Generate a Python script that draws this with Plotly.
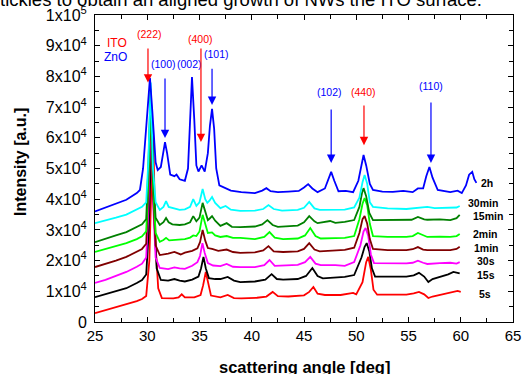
import plotly.graph_objects as go

# ---------------- data ----------------
x_2h = [25.0, 26.0, 27.0, 28.0, 29.0, 29.3, 29.6, 29.8, 30.0, 30.26, 30.5, 30.8, 31.0, 31.3, 31.5, 31.7, 31.9,
        32.2, 32.6, 32.8, 33.1, 33.6, 33.9, 34.1, 34.28, 34.5, 34.7, 34.9, 35.2, 35.5, 35.8, 36.0, 36.2, 36.4,
        36.6, 36.9, 37.5, 38.0, 39.0, 40.3, 41.0, 41.4, 41.8, 42.5, 43.5, 44.5, 45.0, 45.4, 45.8, 46.3, 47.0,
        47.3, 47.6, 47.9, 48.3, 49.0, 49.7, 50.2, 50.5, 50.7, 50.95, 51.3, 51.6, 52.5, 53.5, 54.5, 55.4, 55.9,
        56.4, 56.7, 57.0, 57.3, 57.8, 58.5, 59.0, 59.7, 60.1, 60.5, 60.8, 61.1, 61.3, 61.5]
y_2h = [36000, 37300, 38500, 39800, 42000, 43000, 50000, 60000, 70000, 79500, 68000, 52000, 49500, 50500, 54500,
        58600, 55000, 48000, 47500, 48000, 46500, 46000, 50000, 68000, 79800, 66000, 51000, 49000, 51000, 49000,
        55000, 64000, 69400, 63000, 50000, 44500, 43500, 42800, 42300, 42000, 42800, 43600, 42600, 42300, 42500,
        42700, 43800, 44900, 43500, 42300, 43500, 46500, 48900, 46000, 42600, 42700, 42300, 46000, 51500, 54400,
        51000, 45000, 43000, 42500, 42400, 42700, 42300, 43500, 43500, 47500, 50500, 47000, 43000, 42500, 42300,
        42800, 42000, 44500, 48000, 48900, 46500, 45300]

x_30min = [25.0, 26.0, 27.0, 28.0, 29.0, 29.5, 29.9, 30.1, 30.33, 30.55, 30.8, 31.2, 31.55, 31.8, 32.05, 32.4,
           33.1, 33.6, 34.1, 34.4, 34.7, 35.0, 35.3, 35.55, 35.75, 35.95, 36.2, 36.5, 37.0, 37.5, 38.0, 38.9,
           40.3, 41.1, 41.6, 42.1, 42.9, 44.4, 45.0, 45.5, 46.0, 46.5, 47.7, 48.9, 49.8, 50.3, 50.6, 50.8, 51.05,
           51.3, 51.6, 53.0, 54.8, 56.0, 56.8, 57.5, 59.0, 59.6, 59.9]
y_30min = [32200, 33000, 34000, 35000, 36500, 37500, 39000, 52000, 78000, 50000, 39000, 36500, 37500, 39400,
           37500, 37100, 36500, 36700, 37500, 40000, 37800, 39000, 43300, 40000, 38800, 39500, 40700, 38800,
           37100, 37800, 36600, 36200, 36300, 36800, 38100, 36800, 36300, 36500, 37200, 39100, 37000, 36500,
           36500, 36600, 37300, 40500, 45500, 47900, 45000, 39000, 37500, 37000, 36800, 37200, 37500, 37100,
           37100, 37300, 37800]

x_15min = [25.0, 26.0, 27.0, 28.0, 29.0, 29.5, 29.9, 30.1, 30.33, 30.55, 30.8, 31.2, 31.55, 31.8, 32.05, 32.4,
           33.1, 33.6, 34.1, 34.4, 34.7, 35.0, 35.3, 35.55, 35.8, 36.0, 36.2, 36.5, 37.0, 37.6, 38.1, 38.9,
           40.3, 41.0, 41.5, 42.0, 42.5, 44.4, 45.0, 45.5, 46.0, 46.3, 47.0, 47.5, 48.0, 48.9, 49.8, 50.3, 50.55,
           50.7, 50.95, 51.25, 51.6, 53.8, 55.3, 55.9, 56.5, 56.8, 58.0, 59.0, 59.6, 59.9]
y_15min = [26000, 27000, 28200, 29300, 30800, 31800, 33500, 50000, 76000, 48000, 34000, 31600, 32500, 33900,
           32500, 31800, 31600, 31800, 32500, 34500, 32800, 34000, 38800, 36000, 33200, 33800, 34500, 33000,
           31300, 32200, 31000, 30900, 31100, 31800, 33200, 31600, 31000, 31400, 32500, 34500, 32800, 32200,
           32500, 32900, 32300, 32600, 33200, 37500, 42000, 43600, 41000, 35500, 33200, 33200, 33300, 34200,
           33400, 33300, 33400, 33200, 33800, 34900]

x_2min = [25.0, 26.0, 27.0, 28.0, 29.0, 29.5, 29.9, 30.1, 30.33, 30.55, 30.8, 31.2, 31.55, 31.8, 32.1, 33.1,
          33.6, 34.1, 34.4, 34.7, 35.0, 35.3, 35.55, 35.8, 36.2, 36.5, 37.0, 37.6, 38.2, 38.9, 40.3, 41.2, 41.7,
          42.2, 43.0, 44.4, 45.1, 45.6, 46.1, 46.6, 48.0, 48.9, 49.8, 50.3, 50.6, 50.8, 51.05, 51.3, 51.6, 53.0,
          54.8, 55.4, 55.9, 56.4, 56.8, 58.0, 59.0, 59.6, 59.9]
y_2min = [22800, 23700, 24700, 25700, 27000, 27900, 29500, 46000, 75000, 45000, 29000, 26100, 26700, 27400,
          26600, 27000, 27000, 27500, 28200, 28000, 29500, 34900, 31500, 29000, 29200, 28200, 27700, 28000,
          27400, 27400, 27000, 27700, 29300, 27500, 27000, 27200, 28200, 30600, 28000, 27200, 27300, 27400,
          28000, 33500, 38500, 40400, 38000, 32000, 28000, 27700, 27700, 28000, 29000, 28200, 27700, 27800,
          27700, 28000, 28700]

x_1min = [25.0, 26.0, 27.0, 28.0, 29.0, 29.5, 29.9, 30.1, 30.33, 30.55, 30.8, 31.2, 32.0, 32.6, 33.2, 33.6,
          34.3, 34.8, 35.05, 35.3, 35.55, 35.8, 36.2, 36.8, 37.6, 38.2, 38.9, 40.3, 41.1, 41.6, 42.1, 43.0, 44.4,
          45.0, 45.5, 46.0, 46.5, 47.5, 48.9, 49.8, 50.3, 50.6, 50.8, 51.05, 51.3, 51.6, 53.0, 54.8, 55.4, 55.9,
          56.4, 56.8, 58.0, 59.0, 59.6, 59.9]
y_1min = [17900, 18900, 20000, 21200, 22800, 23800, 25500, 42000, 72000, 42000, 25000, 21800, 22300, 22800,
          22000, 22600, 23200, 24000, 26000, 30000, 26500, 24100, 23800, 23200, 23600, 22800, 22500, 22700,
          23300, 24700, 23000, 22800, 23000, 23800, 25700, 23600, 23000, 23200, 23500, 24200, 29000, 33500,
          34500, 32000, 27000, 23800, 23400, 23400, 23700, 24400, 23600, 23400, 23500, 23400, 23800, 24500]

x_30s = [25.0, 26.0, 27.0, 28.0, 29.0, 29.5, 29.9, 30.1, 30.35, 30.57, 30.8, 31.2, 32.0, 32.6, 33.1, 33.6, 34.3,
         34.8, 35.05, 35.28, 35.5, 35.8, 36.3, 37.0, 37.6, 38.2, 38.9, 40.3, 41.2, 41.7, 42.2, 43.0, 44.4, 45.1,
         45.6, 46.1, 46.6, 48.0, 48.9, 49.8, 50.4, 50.7, 50.9, 51.15, 51.4, 51.7, 53.0, 54.8, 55.4, 55.9, 56.4,
         56.8, 58.0, 59.0, 59.6, 59.9]
y_30s = [12700, 13700, 15000, 16300, 18000, 19000, 21000, 36000, 70000, 38000, 21000, 17600, 17200, 17800, 17500,
         17300, 18300, 19500, 21500, 25700, 22500, 19200, 18400, 18200, 18900, 18000, 17900, 17900, 18500, 20200,
         18300, 18400, 18600, 19500, 21200, 19000, 18500, 18500, 18300, 19500, 25000, 29500, 30600, 28000, 22000,
         19200, 19100, 19100, 19300, 20000, 19300, 18900, 19200, 19300, 19000, 19500]

x_15s = [25.0, 26.0, 27.0, 28.0, 29.0, 29.5, 29.9, 30.15, 30.45, 30.65, 30.9, 31.3, 32.0, 32.6, 33.1, 33.6, 34.3,
         34.9, 35.15, 35.38, 35.6, 35.9, 36.5, 37.0, 37.7, 38.3, 38.9, 40.3, 41.3, 41.9, 42.4, 43.0, 44.4, 45.2,
         45.8, 46.3, 46.8, 48.0, 48.9, 49.8, 50.5, 50.8, 51.0, 51.25, 51.5, 51.8, 53.0, 54.8, 55.5, 56.0, 56.5,
         56.9, 57.3, 58.0, 58.8, 59.3, 59.9]
y_15s = [8100, 9000, 10000, 11000, 12700, 13700, 15500, 30000, 68000, 36000, 17500, 13700, 13500, 14000, 13500,
         13200, 13800, 14800, 17500, 21200, 17500, 14300, 14000, 14000, 14700, 13500, 13000, 13200, 13800, 15600,
         14000, 13800, 14000, 15000, 17600, 15000, 14200, 14400, 14700, 15300, 21000, 24500, 25700, 23000, 17500,
         14800, 14800, 14800, 15200, 16000, 14800, 13000, 14000, 14600, 15500, 16300, 15800]

x_5s = [25.0, 26.0, 27.0, 28.0, 29.0, 29.5, 29.9, 30.2, 30.55, 30.8, 31.05, 31.4, 32.5, 33.0, 33.3, 33.6, 34.5,
        35.1, 35.35, 35.6, 35.85, 36.1, 37.0, 37.7, 38.3, 39.0, 40.5, 41.4, 42.0, 42.5, 43.5, 45.0, 45.5, 45.9,
        46.3, 47.0, 48.5, 49.5, 49.7, 50.0, 50.6, 50.95, 51.15, 51.4, 51.65, 52.0, 53.0, 54.8, 55.5, 56.0, 56.5,
        56.9, 57.3, 58.0, 59.0, 59.7, 60.0]
y_5s = [2900, 3900, 4800, 5700, 6800, 7500, 8500, 20000, 64000, 25000, 11000, 7800, 7700, 8000, 9000, 8000, 8000,
        8800, 12000, 16300, 12000, 8600, 8000, 8800, 7800, 7700, 7900, 8300, 9800, 8400, 8300, 8700, 9800, 11400,
        9200, 8800, 8800, 9200, 9500, 9000, 13000, 19500, 21200, 17000, 10500, 8900, 8900, 8900, 9300, 9800, 9000,
        7800, 8300, 8800, 9400, 10100, 9800]

series_names = ["5s", "15s", "30s", "1min", "2min", "15min", "30min", "2h"]
series_colors = ["#FF0000", "#000000", "#FF00FF", "#800000", "#00FF00", "#008000", "#00FFFF", "#0000FF"]
series_x = [x_5s, x_15s, x_30s, x_1min, x_2min, x_15min, x_30min, x_2h]
series_y = [y_5s, y_15s, y_30s, y_1min, y_2min, y_15min, y_30min, y_2h]

# series label positions (deg, intensity)
label_x = [61.6, 61.4, 61.4, 61.1, 61.0, 61.0, 60.5, 61.75]
label_y = [9100, 15300, 19900, 24100, 28700, 34500, 38800, 45300]

# reflections: label, colour, x, label y, arrow tip y, arrow tail y (None = no arrow)
peak_labels = ["(222)", "(100)", "(002)", "(400)", "(101)", "(102)", "(440)", "(110)"]
peak_colors = ["#FF0000", "#0000FF", "#0000FF", "#FF0000", "#0000FF", "#0000FF", "#FF0000", "#0000FF"]
peak_text_x = [30.26, 31.6, 34.0, 35.14, 36.67, 47.4, 50.65, 57.15]
peak_text_y = [93800, 84000, 84000, 92200, 87300, 74900, 74900, 76900]
arrow_x = [30.07, 31.7, None, 35.14, 36.2, 47.6, 50.74, 57.15]
arrow_tip = [78000, 59900, None, 58600, 70700, 51800, 57600, 51800]
arrow_tail = [89600, 79800, None, 89600, 83000, 69700, 71000, 72000]

y_tickvals = [0, 10000, 20000, 30000, 40000, 50000, 60000, 70000, 80000, 90000, 100000]
y_ticktext = ["0"] + ["%dx10<sup>4</sup>" % i for i in range(1, 10)] + ["1x10<sup>5</sup>"]
x_tickvals = [25, 30, 35, 40, 45, 50, 55, 60, 65]

FONT = "Liberation Sans, Arial, sans-serif"

fig = go.Figure()
for xs, ys, c, n in zip(series_x, series_y, series_colors, series_names):
    fig.add_trace(go.Scatter(x=xs, y=ys, mode="lines", line=dict(color=c, width=1.8), name=n,
                             showlegend=False))

ann = []
for n, lx, ly in zip(series_names, label_x, label_y):
    ann.append(dict(x=lx, y=ly, xref="x", yref="y", text="<b>%s</b>" % n, showarrow=False,
                    xanchor="left", yanchor="middle", font=dict(family=FONT, size=10.5, color="#000")))

for t, c, tx, ty, axx, tip, tail in zip(peak_labels, peak_colors, peak_text_x, peak_text_y,
                                         arrow_x, arrow_tip, arrow_tail):
    ann.append(dict(x=tx, y=ty, xref="x", yref="y", text=t, showarrow=False,
                    xanchor="center", yanchor="middle", font=dict(family=FONT, size=10.5, color=c)))
    if axx is not None:
        ann.append(dict(x=axx, y=tip, ax=axx, ay=tail, xref="x", yref="y", axref="x", ayref="y",
                        text="", showarrow=True, arrowhead=2, arrowsize=1.4, arrowwidth=1.2,
                        arrowcolor=c, standoff=0, startstandoff=0))

ann.append(dict(x=25.96, y=90900, xref="x", yref="y", text="ITO", showarrow=False, xanchor="left",
                yanchor="middle", font=dict(family=FONT, size=12, color="#FF0000")))
ann.append(dict(x=25.67, y=86300, xref="x", yref="y", text="ZnO", showarrow=False, xanchor="left",
                yanchor="middle", font=dict(family=FONT, size=12, color="#0000FF")))

# axis titles
ann.append(dict(x=-0.1794, y=0.521, xref="paper", yref="paper", text="<b>Intensity [a.u.]</b>",
                textangle=-90, showarrow=False, xanchor="center", yanchor="middle",
                font=dict(family=FONT, size=16, color="#000")))
ann.append(dict(x=0.5, y=-0.1466, xref="paper", yref="paper", text="<b>scattering angle [deg]</b>",
                showarrow=False, xanchor="center", yanchor="middle",
                font=dict(family=FONT, size=16.5, color="#000")))
# clipped caption text at the very top
ann.append(dict(x=-0.232, y=1.0098, xref="paper", yref="paper",
                text="tickles to obtain an aligned growth of NWs the ITO surface.",
                showarrow=False, xanchor="left", yanchor="bottom",
                font=dict(family=FONT, size=18.5, color="#000")))

fig.update_layout(
    width=522, height=374,
    margin=dict(l=95, r=9, t=15, b=52, autoexpand=False),
    paper_bgcolor="white", plot_bgcolor="white",
    annotations=ann,
    xaxis=dict(range=[25, 65], tickmode="array", tickvals=x_tickvals, ticks="inside", ticklen=5,
               tickcolor="#000", showline=True, linecolor="#000", linewidth=1, mirror="allticks",
               showgrid=False, zeroline=False, automargin=False,
               tickfont=dict(family=FONT, size=15, color="#000"),
               minor=dict(tickmode="array", tickvals=[27.5, 32.5, 37.5, 42.5, 47.5, 52.5, 57.5, 62.5],
                          ticks="inside", ticklen=4, tickcolor="#000", showgrid=False)),
    yaxis=dict(range=[0, 100000], tickmode="array", tickvals=y_tickvals, ticktext=y_ticktext,
               ticks="inside", ticklen=5, tickcolor="#000", showline=True, linecolor="#000", linewidth=1,
               mirror="allticks", showgrid=False, zeroline=False, ticklabelstandoff=4, automargin=False,
               tickfont=dict(family=FONT, size=16, color="#000"),
               minor=dict(tickmode="array", tickvals=[5000 + 10000 * i for i in range(10)],
                          ticks="inside", ticklen=4, tickcolor="#000", showgrid=False)),
)

fig.write_html("out.html", config={"displayModeBar": False},
               post_script="document.body.style.margin='0';document.body.style.overflow='hidden';")
